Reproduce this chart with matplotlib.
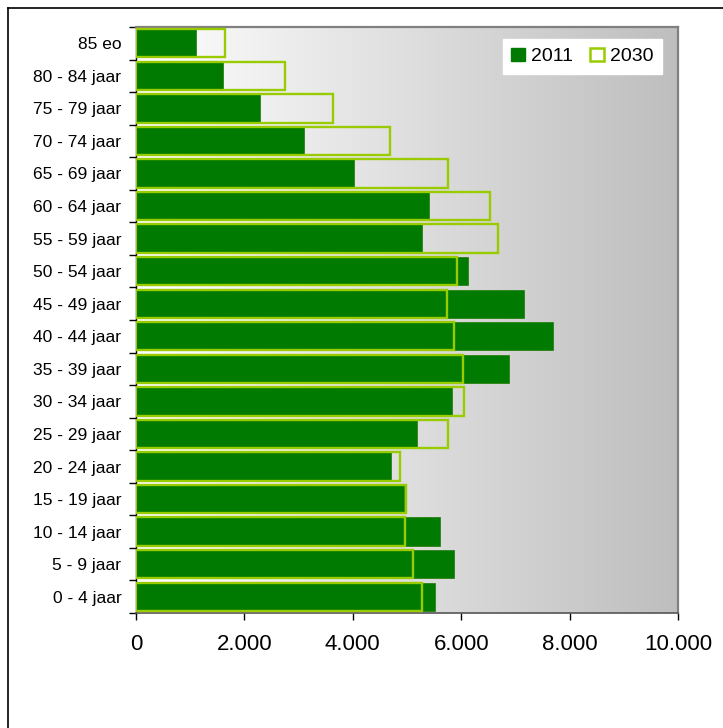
import numpy as np
import matplotlib
matplotlib.use("Agg")
import matplotlib.pyplot as plt
from matplotlib.lines import Line2D
from matplotlib.patches import Patch
from matplotlib.ticker import FuncFormatter, FixedLocator

plt.rcParams['font.family'] = ['Liberation Sans', 'DejaVu Sans']

# age groups, youngest first
groups = ["0 - 4 jaar", "5 - 9 jaar", "10 - 14 jaar", "15 - 19 jaar", "20 - 24 jaar",
          "25 - 29 jaar", "30 - 34 jaar", "35 - 39 jaar", "40 - 44 jaar", "45 - 49 jaar",
          "50 - 54 jaar", "55 - 59 jaar", "60 - 64 jaar", "65 - 69 jaar", "70 - 74 jaar",
          "75 - 79 jaar", "80 - 84 jaar", "85 eo"]
pop_2011 = [5520, 5870, 5610, 4950, 4700, 5190, 5830, 6880, 7700, 7160,
            6120, 5280, 5400, 4020, 3100, 2280, 1605, 1110]
pop_2030 = [5280, 5110, 4970, 4980, 4870, 5760, 6060, 6040, 5870, 5740,
            5930, 6670, 6540, 5750, 4690, 3630, 2740, 1650]

dark_green = "#007A00"
lime = "#99CC00"

fig = plt.figure(figsize=(7.23, 7.28), dpi=100)
ax = fig.add_axes([136 / 723, 1 - 613 / 728, 542 / 723, 586 / 728])

# white-to-grey background
grad = np.linspace(0, 1, 256).reshape(1, -1)
ax.imshow(grad, extent=[0, 1, 0, 1], transform=ax.transAxes, aspect="auto",
          cmap=matplotlib.colors.LinearSegmentedColormap.from_list("bg", ["#FFFFFF", "#BEBEBE"]),
          zorder=0)

y = np.arange(len(groups))
ax.barh(y, pop_2011, height=0.87, color=dark_green, edgecolor="#1E7A00", linewidth=0.5, zorder=2)
ax.barh(y, pop_2030, height=0.87, facecolor="none", edgecolor=lime, linewidth=1.7, zorder=3)

ax.set_xlim(0, 10000)
ax.set_ylim(-0.5, len(groups) - 0.5)

ax.set_xticks(np.arange(0, 10001, 2000))
ax.xaxis.set_major_formatter(FuncFormatter(lambda v, p: f"{int(v):,}".replace(",", ".")))
ax.tick_params(axis="x", labelsize=16, length=5, width=1, pad=10, direction="out")

ax.set_yticks(y)
ax.set_yticklabels(groups)
ax.yaxis.set_minor_locator(FixedLocator(np.arange(-0.5, len(groups), 1.0)))
ax.tick_params(axis="y", which="major", labelsize=12.5, length=0, pad=10.5)
ax.tick_params(axis="y", which="minor", length=5, width=1, direction="out")

for side in ["top", "right"]:
    ax.spines[side].set_color("#808080")
    ax.spines[side].set_linewidth(1.6)
ax.spines["left"].set_color("#000000")
ax.spines["bottom"].set_color("#555555")
ax.spines["left"].set_linewidth(1.0)
ax.spines["bottom"].set_linewidth(1.2)

handles = [Patch(facecolor=dark_green, edgecolor=dark_green, label="2011"),
           Patch(facecolor="white", edgecolor=lime, linewidth=1.8, label="2030")]
leg = ax.legend(handles=handles, loc="upper right", bbox_to_anchor=(1 - 16 / 542, 1 - 12 / 586),
                ncol=2, fontsize=14, frameon=True, fancybox=False, handlelength=0.7,
                handleheight=0.7, handletextpad=0.3, columnspacing=0.9, borderpad=0.45,
                borderaxespad=0)
leg.get_frame().set_facecolor("white")
leg.get_frame().set_edgecolor("white")
leg.get_frame().set_alpha(1)

# chart frame
fig.add_artist(Line2D([7.5 / 723, 7.5 / 723], [0, 1 - 8 / 728], color="black", lw=1.2))
fig.add_artist(Line2D([7.5 / 723, 1], [1 - 8 / 728, 1 - 8 / 728], color="black", lw=1.2))

fig.savefig("out.png", dpi=100)
